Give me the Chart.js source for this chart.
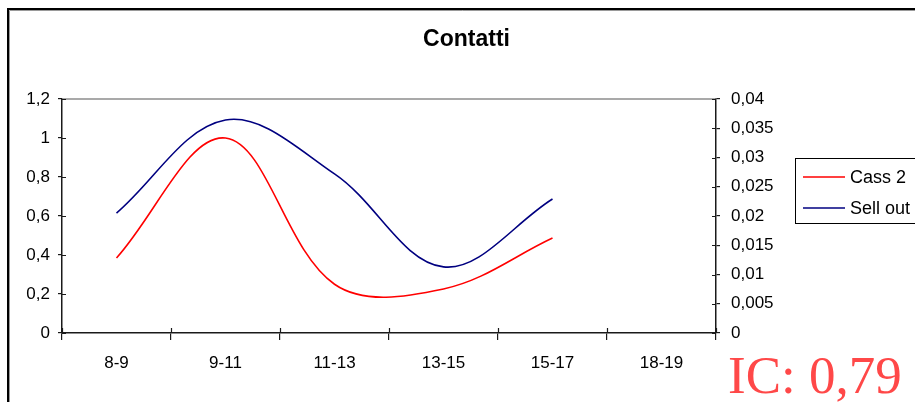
<!DOCTYPE html>
<html>
<head>
<meta charset="utf-8">
<script src="https://cdn.jsdelivr.net/npm/chart.js@4/dist/chart.umd.min.js"></script>
<style>
  html, body { margin: 0; padding: 0; background: #fff; }
  #wrap { position: relative; width: 915px; height: 402px; }
</style>
</head>
<body>
<div id="wrap"><canvas id="c" width="915" height="402"></canvas></div>
<script>
// Time slots on the x axis
const categories = ['8-9', '9-11', '11-13', '13-15', '15-17', '18-19'];
// Series values (Cass 2 on the left axis, Sell out on the right axis)
const cass2 = [0.385, 1.0, 0.25, 0.226, 0.487, null];
const sellOut = [0.0205, 0.0364, 0.0272, 0.0113, 0.0229, null];
const seriesNames = ['Cass 2', 'Sell out'];
// Tick labels (Italian decimal comma)
const leftTicks = ['0', '0,2', '0,4', '0,6', '0,8', '1', '1,2'];
const rightTicks = ['0', '0,005', '0,01', '0,015', '0,02', '0,025', '0,03', '0,035', '0,04'];
const chartTitle = 'Contatti';
const icLabel = 'IC: 0,79';

const SANS = "'Liberation Sans', Arial, sans-serif";
const RED = '#ff0000';
const NAVY = '#000080';
const AXIS = '#1a1a1a';

const decorations = {
  id: 'decorations',
  afterDraw(chart) {
    const ctx = chart.ctx;
    const area = chart.chartArea;
    const sx = chart.scales.x, sy = chart.scales.y, sy1 = chart.scales.y1;
    ctx.save();

    // outer frame
    ctx.lineCap = 'butt';
    ctx.strokeStyle = '#000';
    ctx.lineWidth = 2;
    ctx.beginPath();
    ctx.moveTo(8, 402); ctx.lineTo(8, 9); ctx.lineTo(915, 9);
    ctx.stroke();
    ctx.strokeStyle = '#9a9a9a';
    ctx.lineWidth = 1;
    ctx.beginPath();
    ctx.moveTo(9.5, 402); ctx.lineTo(9.5, 10.5); ctx.lineTo(915, 10.5);
    ctx.stroke();

    // plot-area top border
    ctx.strokeStyle = '#8c8c8c';
    ctx.lineWidth = 1.5;
    ctx.beginPath();
    ctx.moveTo(area.left, area.top); ctx.lineTo(area.right, area.top);
    ctx.stroke();

    // inner halves of the crossing tick marks
    ctx.strokeStyle = AXIS;
    ctx.lineWidth = 1.2;
    ctx.beginPath();
    sy.ticks.forEach(t => {
      const p = Math.round(sy.getPixelForValue(t.value)) + 0.5;
      ctx.moveTo(area.left, p); ctx.lineTo(area.left + 4, p);
    });
    sy1.ticks.forEach(t => {
      const p = Math.round(sy1.getPixelForValue(t.value)) + 0.5;
      ctx.moveTo(area.right, p); ctx.lineTo(area.right - 4, p);
    });
    for (let i = 0; i <= categories.length; i++) {
      const p = Math.round(sx.getPixelForValue(i - 0.5)) + 0.5;
      ctx.moveTo(p, area.bottom); ctx.lineTo(p, area.bottom - 5);
    }
    ctx.stroke();

    // legend
    ctx.strokeStyle = '#000';
    ctx.lineWidth = 1;
    ctx.strokeRect(795.5, 158.5, 140, 65);
    const rows = [177, 208];
    chart.data.datasets.forEach((ds, i) => {
      ctx.strokeStyle = ds.borderColor;
      ctx.lineWidth = 1.5;
      ctx.beginPath();
      ctx.moveTo(803, rows[i]); ctx.lineTo(845, rows[i]);
      ctx.stroke();
      ctx.fillStyle = '#000';
      ctx.font = '18px ' + SANS;
      ctx.textBaseline = 'middle';
      ctx.textAlign = 'left';
      ctx.fillText(ds.label, 850, rows[i] + 1);
    });

    // IC annotation
    ctx.fillStyle = '#ff4848';
    ctx.font = "53px 'Liberation Serif', 'Times New Roman', serif";
    ctx.textBaseline = 'alphabetic';
    ctx.textAlign = 'left';
    ctx.fillText(icLabel, 728, 393);

    ctx.restore();
  }
};

const tickFont = { family: SANS, size: 17 };

new Chart(document.getElementById('c'), {
  type: 'line',
  data: {
    labels: categories,
    datasets: [
      {
        label: seriesNames[0],
        data: cass2,
        yAxisID: 'y',
        borderColor: RED,
        borderWidth: 1.6,
        pointRadius: 0,
        tension: 0.36,
        fill: false
      },
      {
        label: seriesNames[1],
        data: sellOut,
        yAxisID: 'y1',
        borderColor: NAVY,
        borderWidth: 1.6,
        pointRadius: 0,
        tension: 0.36,
        fill: false
      }
    ]
  },
  options: {
    responsive: false,
    animation: false,
    devicePixelRatio: 1,
    layout: { padding: { left: 18, right: 0, top: 0, bottom: 0 } },
    plugins: {
      legend: { display: false },
      tooltip: { enabled: false },
      title: {
        display: true,
        text: chartTitle,
        color: '#000',
        font: { family: SANS, size: 23, weight: 'bold' },
        padding: { top: 26, bottom: 45.4 }
      }
    },
    scales: {
      x: {
        type: 'category',
        offset: true,
        grid: { offset: true, drawOnChartArea: false, drawTicks: true, tickLength: 7, color: AXIS, lineWidth: 1.2 },
        border: { display: true, color: AXIS, width: 1.5 },
        ticks: { color: '#000', font: tickFont, padding: 13, maxRotation: 0, autoSkip: false },
        afterFit(s) { s.height = 69; }
      },
      y: {
        position: 'left',
        min: 0,
        max: 1.2,
        grid: { drawOnChartArea: false, drawTicks: true, tickLength: 4, color: AXIS, lineWidth: 1.2 },
        border: { display: true, color: AXIS, width: 1.5 },
        ticks: {
          stepSize: 0.2,
          color: '#000',
          font: tickFont,
          padding: 8,
          callback: (v, i) => leftTicks[i]
        },
        afterFit(s) { s.width = 44; }
      },
      y1: {
        position: 'right',
        min: 0,
        max: 0.04,
        grid: { drawOnChartArea: false, drawTicks: true, tickLength: 4, color: AXIS, lineWidth: 1.2 },
        border: { display: true, color: AXIS, width: 1.5 },
        ticks: {
          stepSize: 0.005,
          color: '#000',
          font: tickFont,
          padding: 11,
          callback: (v, i) => rightTicks[i]
        },
        afterFit(s) { s.width = 199; }
      }
    }
  },
  plugins: [decorations]
});
</script>
</body>
</html>
